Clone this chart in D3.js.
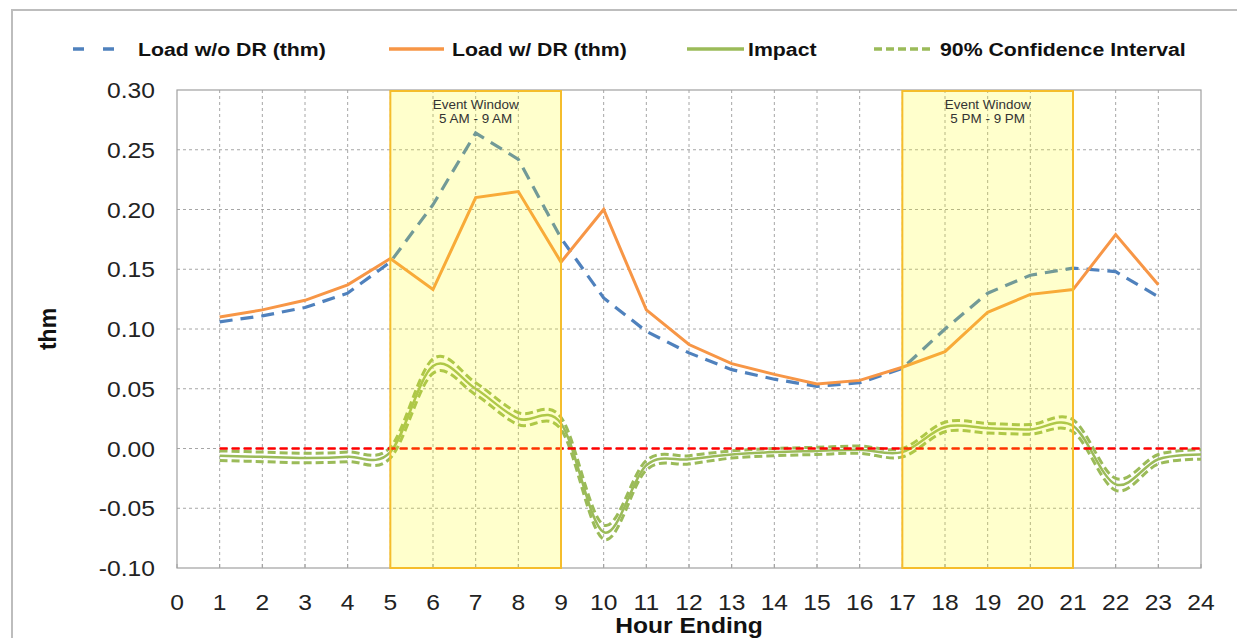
<!DOCTYPE html>
<html>
<head>
<meta charset="utf-8">
<script src="https://cdn.jsdelivr.net/npm/d3@7"></script>
<style>
  body { margin: 0; background: #fff; }
  svg { display: block; font-family: "Liberation Sans", Arial, sans-serif; }
</style>
</head>
<body>
<svg id="chart" width="1237" height="638"></svg>
<script>
// ----- data -----
const xTicks = d3.range(0, 25);
const yTicks = [-0.10, -0.05, 0.00, 0.05, 0.10, 0.15, 0.20, 0.25, 0.30];

const loadHours = d3.range(1, 24);
const loadNoDR = [0.106, 0.111, 0.118, 0.130, 0.156, 0.204, 0.264, 0.242, 0.176, 0.126, 0.098, 0.080,
                  0.066, 0.058, 0.052, 0.055, 0.067, 0.100, 0.130, 0.145, 0.151, 0.148, 0.127];
const loadDR   = [0.110, 0.116, 0.124, 0.137, 0.159, 0.133, 0.210, 0.215, 0.156, 0.200, 0.116, 0.087,
                  0.071, 0.062, 0.054, 0.057, 0.068, 0.081, 0.114, 0.129, 0.133, 0.179, 0.137];

const impactHours = d3.range(1, 25);
const impact = [-0.006, -0.007, -0.008, -0.007, -0.003, 0.069, 0.050, 0.025, 0.021, -0.070, -0.014, -0.009,
                -0.005, -0.003, -0.002, -0.001, -0.003, 0.018, 0.017, 0.016, 0.019, -0.030, -0.009, -0.005];
const ciHigh = [-0.002, -0.003, -0.004, -0.003, 0.001, 0.075, 0.055, 0.030, 0.026, -0.064, -0.010, -0.006,
                -0.002, 0.000, 0.001, 0.002, 0.000, 0.022, 0.021, 0.020, 0.024, -0.025, -0.005, -0.001];
const ciLow  = [-0.010, -0.011, -0.012, -0.011, -0.008, 0.063, 0.045, 0.020, 0.016, -0.076, -0.018, -0.013,
                -0.008, -0.006, -0.005, -0.004, -0.007, 0.014, 0.013, 0.012, 0.014, -0.035, -0.013, -0.009];

const eventWindows = [
  { start: 5, end: 9, label: "5 AM - 9 AM" },
  { start: 17, end: 21, label: "5 PM - 9 PM" }
];

const legendItems = [
  { label: "Load w/o DR (thm)", color: "#4f81bd", dash: "11,19", x0: 73, x1: 115, tx: 138 },
  { label: "Load w/ DR (thm)", color: "#f79646", dash: null, x0: 389, x1: 444, tx: 452 },
  { label: "Impact", color: "#9bbb59", dash: null, x0: 687, x1: 744, tx: 748 },
  { label: "90% Confidence Interval", color: "#9bbb59", dash: "8,4", x0: 874, x1: 932, tx: 940 }
];

// ----- layout -----
const svg = d3.select("#chart");
const plotL = 177, plotR = 1201, plotT = 90, plotB = 568;
const stretch = 1.12; // the original's text is a little wider than Arial

const x = d3.scaleLinear().domain([0, 24]).range([plotL, plotR]);
const y = d3.scaleLinear().domain([-0.10, 0.30]).range([plotB, plotT]);

const at = (tx, ty) => `translate(${tx},${ty}) scale(${stretch},1)`;

// outer frame
svg.append("rect")
  .attr("x", 12).attr("y", 10).attr("width", 1300).attr("height", 700)
  .attr("fill", "none").attr("stroke", "#bdbdbd").attr("stroke-width", 2);

// gridlines
svg.append("g").selectAll("line")
  .data(xTicks.slice(1, -1))
  .join("line")
  .attr("x1", d => x(d)).attr("x2", d => x(d))
  .attr("y1", plotT).attr("y2", plotB)
  .attr("stroke", "#a6a6a6").attr("stroke-dasharray", "3,3");

svg.append("g").selectAll("line")
  .data(yTicks.slice(1, -1))
  .join("line")
  .attr("x1", plotL).attr("x2", plotR)
  .attr("y1", d => y(d)).attr("y2", d => y(d))
  .attr("stroke", "#a6a6a6").attr("stroke-dasharray", "3,3");

// plot border
svg.append("rect")
  .attr("x", plotL).attr("y", plotT).attr("width", plotR - plotL).attr("height", plotB - plotT)
  .attr("fill", "none").attr("stroke", "#a0a0a0").attr("stroke-width", 1.2);

// small ticks on the bottom axis
svg.append("g").selectAll("line")
  .data(xTicks)
  .join("line")
  .attr("x1", d => x(d)).attr("x2", d => x(d))
  .attr("y1", plotB).attr("y2", plotB - 4)
  .attr("stroke", "#a0a0a0");

// ----- series -----
const straight = d3.line().x(d => x(d.h)).y(d => y(d.v));
const smooth = d3.line().x(d => x(d.h)).y(d => y(d.v)).curve(d3.curveCatmullRom.alpha(0));

const pts = (hrs, vals) => hrs.map((h, i) => ({ h, v: vals[i] }));

svg.append("path")
  .attr("d", straight(pts(loadHours, loadNoDR)))
  .attr("fill", "none").attr("stroke", "#4f81bd").attr("stroke-width", 3.2)
  .attr("stroke-dasharray", "13,8");

svg.append("path")
  .attr("d", straight(pts(loadHours, loadDR)))
  .attr("fill", "none").attr("stroke", "#f79646").attr("stroke-width", 3);

[ciHigh, ciLow].forEach(vals => {
  svg.append("path")
    .attr("d", smooth(pts(impactHours, vals)))
    .attr("fill", "none").attr("stroke", "#9bbb59").attr("stroke-width", 3)
    .attr("stroke-dasharray", "8,4");
});

svg.append("path")
  .attr("d", smooth(pts(impactHours, impact)))
  .attr("fill", "none").attr("stroke", "#9bbb59").attr("stroke-width", 2.5);

// zero reference
svg.append("line")
  .attr("x1", x(1)).attr("x2", x(24))
  .attr("y1", y(0)).attr("y2", y(0))
  .attr("stroke", "#ff0000").attr("stroke-width", 2.5).attr("stroke-dasharray", "8,4");

// ----- event windows (translucent, on top) -----
const win = svg.append("g").selectAll("g").data(eventWindows).join("g");
win.append("rect")
  .attr("x", d => x(d.start)).attr("y", plotT + 1)
  .attr("width", d => x(d.end) - x(d.start)).attr("height", plotB - plotT - 1)
  .attr("fill", "#ffff00").attr("fill-opacity", 0.2)
  .attr("stroke", "#f5bd2c").attr("stroke-width", 2);
win.append("text")
  .attr("transform", d => at((x(d.start) + x(d.end)) / 2, 109))
  .attr("text-anchor", "middle").attr("font-size", 12).attr("fill", "#333")
  .text("Event Window");
win.append("text")
  .attr("transform", d => at((x(d.start) + x(d.end)) / 2, 123))
  .attr("text-anchor", "middle").attr("font-size", 12).attr("fill", "#333")
  .text(d => d.label);

// ----- axis labels -----
svg.append("g").selectAll("text")
  .data(yTicks)
  .join("text")
  .attr("transform", d => at(155, y(d) + 8))
  .attr("text-anchor", "end").attr("font-size", 22).attr("fill", "#222")
  .text(d => d.toFixed(2));

svg.append("g").selectAll("text")
  .data(xTicks)
  .join("text")
  .attr("transform", d => at(x(d), 610))
  .attr("text-anchor", "middle").attr("font-size", 22).attr("fill", "#222")
  .text(d => d);

svg.append("text")
  .attr("transform", `translate(56,${(plotT + plotB) / 2}) rotate(-90)`)
  .attr("text-anchor", "middle").attr("font-size", 23).attr("font-weight", "bold").attr("fill", "#111")
  .text("thm");

svg.append("text")
  .attr("transform", at((plotL + plotR) / 2, 633))
  .attr("text-anchor", "middle").attr("font-size", 22).attr("font-weight", "bold").attr("fill", "#111")
  .text("Hour Ending");

// ----- legend -----
const lg = svg.append("g").selectAll("g").data(legendItems).join("g");
lg.append("line")
  .attr("x1", d => d.x0).attr("x2", d => d.x1)
  .attr("y1", 49).attr("y2", 49)
  .attr("stroke", d => d.color).attr("stroke-width", 3.5)
  .attr("stroke-dasharray", d => d.dash);
lg.append("text")
  .attr("transform", d => at(d.tx, 56))
  .attr("font-size", 19).attr("font-weight", "bold").attr("fill", "#111")
  .text(d => d.label);
</script>
</body>
</html>
